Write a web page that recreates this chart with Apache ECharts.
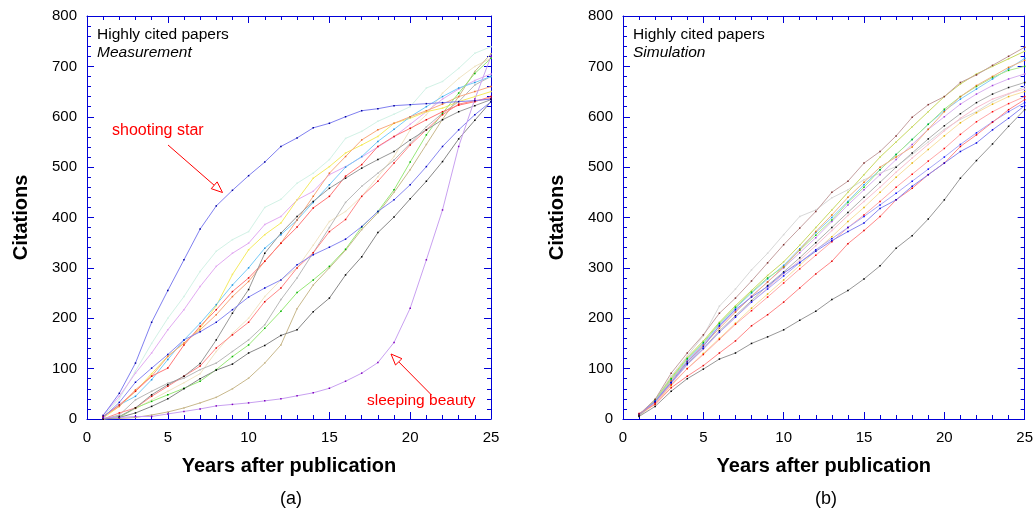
<!DOCTYPE html>
<html><head><meta charset="utf-8">
<script src="https://cdn.jsdelivr.net/npm/echarts@6/dist/echarts.min.js"></script>
<style>html,body{margin:0;padding:0;background:#fff}#c{width:1036px;height:509px}</style>
</head><body><div id="c"></div>
<script>
// ---------- data ----------
const years = [1,2,3,4,5,6,7,8,9,10,11,12,13,14,15,16,17,18,19,20,21,22,23,24,25];
const xTicks = [0,5,10,15,20,25];
const yTicks = [0,100,200,300,400,500,600,700,800];

// (a) Measurement
const measShootingStar   = [7,51,111,192,255,316,377,423,454,483,510,541,558,578,587,600,612,616,622,624,626,628,630,632,635];
const measSleepingBeauty = [2,3,5,5,10,15,20,26,29,32,36,40,46,52,61,75,91,112,152,220,316,415,541,635,720];
const measAqua   = [5,40,95,150,200,243,293,333,356,372,420,436,468,488,515,557,571,591,605,620,657,670,696,726,739];
const measPink   = [8,45,91,131,177,217,263,303,329,349,386,402,435,452,485,501,520,540,560,585,610,635,655,672,685];
const measYellow = [2,25,55,90,125,150,180,225,287,336,366,389,435,478,501,528,544,561,587,597,610,617,630,640,650];
const measCyan   = [5,28,45,78,118,157,190,227,266,300,339,366,395,430,465,500,521,551,575,600,620,640,657,668,680];
const measOrange = [5,25,58,85,124,151,177,207,243,273,313,349,395,442,488,521,554,574,587,600,612,625,640,650,660];
const measRed1   = [5,28,55,85,101,147,184,217,253,280,313,349,381,419,442,482,505,541,561,577,594,610,623,630,640];
const measRed2   = [0,12,22,45,65,85,105,141,167,192,233,260,300,330,372,396,442,472,508,544,574,604,625,632,636];
const measGrayDark = [0,5,22,48,68,85,110,157,210,257,329,369,402,432,458,478,498,515,531,554,574,594,610,622,634];
const measBlack  = [0,3,12,25,40,60,80,97,109,131,146,166,177,213,240,286,322,370,401,437,472,511,556,593,630];
const measBlue2  = [3,33,73,101,128,157,173,192,217,242,260,276,306,326,341,357,382,412,435,465,501,541,574,604,630];
const measGreen  = [0,3,22,35,48,61,75,98,124,147,180,214,251,276,303,337,381,412,455,510,564,607,647,686,716];
const measKhaki  = [0,1,3,8,14,22,32,43,60,81,111,147,219,266,300,335,376,409,450,495,545,595,640,690,725];
const measBeige  = [0,5,20,38,55,72,90,134,170,200,243,276,300,345,392,412,442,481,521,574,604,647,676,700,716];
const measGray   = [0,8,38,55,71,81,98,111,134,157,187,237,280,330,380,430,462,488,514,547,580,607,630,663,680];

// (b) Simulation
const simBrown     = [9,39,91,131,167,210,240,274,310,346,379,412,450,472,508,531,562,599,624,640,668,683,702,720,738];
const simLightGray = [8,38,85,125,165,224,258,296,329,366,402,415,439,455,475,488,501,525,550,575,595,610,630,645,660];
const simBlack     = [5,25,55,80,99,119,131,150,163,177,196,214,237,255,278,304,339,364,397,435,478,513,546,581,614];
const simBlue      = [9,35,73,113,144,185,217,242,263,290,311,333,354,372,389,418,435,462,485,508,531,548,574,597,622];
const simRed       = [11,29,62,85,106,131,155,185,207,232,260,288,313,348,374,402,435,458,485,508,541,564,589,614,634];
const simOlive     = [8,38,82,122,155,192,225,255,285,312,345,380,415,450,485,520,550,580,610,640,665,685,700,715,730];
const simLightBlue = [8,36,78,118,150,188,220,250,278,305,338,370,400,432,465,495,525,555,585,612,635,655,675,695,716];
const simGreen     = [8,38,80,120,152,190,222,252,280,302,335,365,395,430,460,495,525,555,585,615,640,660,678,692,700];
const simOrange    = [7,34,76,114,146,180,212,243,272,302,336,372,405,440,470,500,520,540,575,610,640,662,680,698,712];
const simViolet    = [8,36,78,115,148,184,214,244,272,300,330,360,392,425,455,485,515,545,575,600,625,645,662,675,685];
const simGrayDot   = [7,33,72,110,140,175,205,235,265,292,320,350,380,410,440,470,500,528,556,582,606,628,645,658,668];
const simPink      = [7,32,70,108,138,172,202,232,260,288,315,344,374,404,432,460,490,518,545,572,597,618,635,646,655];
const simYellow    = [6,30,66,100,130,160,190,220,248,276,305,334,362,392,420,450,480,508,535,562,588,608,625,640,650];
const simRed2      = [10,32,68,100,128,158,188,215,242,270,298,325,352,380,405,432,460,486,512,537,565,590,610,626,640];
const simBlue2     = [9,34,72,108,140,172,202,232,258,284,310,336,358,380,402,425,448,472,496,520,545,568,590,610,628];

// ---------- chart ----------
const FONT = 'Liberation Sans, Arial, sans-serif';
const AX = '#0000d8';
const chart = echarts.init(document.getElementById('c'), null, {renderer:'canvas'});

function xAx(g, pos, labels){
  const a = {type:'value', gridIndex:g, position:pos, min:xTicks[0], max:xTicks[xTicks.length-1], interval:xTicks[1]-xTicks[0],
    axisLine:{show:true,onZero:false,lineStyle:{color:AX,width:1}},
    axisTick:{show:true,inside:true,length:7,lineStyle:{color:AX}},
    minorTick:{show:true,splitNumber:5,length:4,lineStyle:{color:AX}},
    splitLine:{show:false}, minorSplitLine:{show:false},
    axisLabel:{show:labels,color:'#000',fontSize:15,fontFamily:FONT,margin:11}};
  if(labels){ Object.assign(a,{name:'Years after publication',nameLocation:'middle',nameGap:37,
    nameTextStyle:{fontSize:20,fontWeight:'bold',color:'#000',fontFamily:FONT}}); }
  return a;
}
function yAx(g, pos, labels){
  const a = {type:'value', gridIndex:g, position:pos, min:yTicks[0], max:yTicks[yTicks.length-1], interval:yTicks[1]-yTicks[0],
    axisLine:{show:true,onZero:false,lineStyle:{color:AX,width:1}},
    axisTick:{show:true,inside:true,length:7,lineStyle:{color:AX}},
    minorTick:{show:true,splitNumber:5,length:4,lineStyle:{color:AX}},
    splitLine:{show:false}, minorSplitLine:{show:false},
    axisLabel:{show:labels,color:'#000',fontSize:15,fontFamily:FONT,margin:10}};
  if(labels){ Object.assign(a,{name:'Citations',nameLocation:'middle',nameGap:56,nameRotate:90,
    nameTextStyle:{fontSize:20,fontWeight:'bold',color:'#000',fontFamily:FONT}}); }
  return a;
}
function ln(data, color, dot, g){
  return {type:'line', xAxisIndex:g*2, yAxisIndex:g*2, data:years.map((y,i)=>[y,data[i]]),
    lineStyle:{color:color,width:1}, itemStyle:{color:dot||color}, symbol:'rect', symbolSize:1.5,
    showSymbol:true, showAllSymbol:true, animation:false, silent:true, emphasis:{disabled:true}};
}
const series = [
  ln(measAqua,'#d2f2e6',null,0),
  ln(measBeige,'#f0e4c4',null,0),
  ln(measPink,'#e2aaf2',null,0),
  ln(measYellow,'#f4ea60',null,0),
  ln(measGray,'#b8b8b8',null,0),
  ln(measKhaki,'#c8b88c',null,0),
  ln(measCyan,'#78ccf8','#2090e0',0),
  ln(measOrange,'#f8aa80','#f07030',0),
  ln(measGreen,'#98e878','#00b000',0),
  ln(measRed2,'#ff8888','#e00000',0),
  ln(measRed1,'#ff7878','#e00000',0),
  ln(measGrayDark,'#989898','#000000',0),
  ln(measBlack,'#888888','#000000',0),
  ln(measBlue2,'#8888f0','#0000c0',0),
  ln(measSleepingBeauty,'#c8a0f0','#8000c0',0),
  ln(measShootingStar,'#8080f0','#0000a0',0),

  ln(simLightGray,'#d8d8d8',null,1),
  ln(simYellow,'#f8e0a0','#e0b000',1),
  ln(simPink,'#f8c0d0',null,1),
  ln(simViolet,'#d8b0f0','#a040e0',1),
  ln(simOlive,'#c8d860',null,1),
  ln(simLightBlue,'#88ccf8','#1090f0',1),
  ln(simGreen,'#a8e888','#00c000',1),
  ln(simOrange,'#f0b488','#e07000',1),
  ln(simGrayDot,'#b0b0b0','#000000',1),
  ln(simRed2,'#ffa8a8','#ff0000',1),
  ln(simBlue2,'#a8a8f8','#0000ff',1),
  ln(simRed,'#ff8888','#e00000',1),
  ln(simBlue,'#8888f0','#0000e0',1),
  ln(simBlack,'#989898','#000000',1),
  ln(simBrown,'#c4a0a0','#803030',1)
];

function arrow(id,x1,y1,x2,y2){
  const dx=x2-x1, dy=y2-y1, L=Math.hypot(dx,dy), ux=dx/L, uy=dy/L;
  const hl=11, hw=4.5;
  const bx=x2-ux*hl, by=y2-uy*hl;
  return [
    {id:id+'L',type:'line',z:100,shape:{x1:x1,y1:y1,x2:bx,y2:by},style:{stroke:'#ff0000',fill:null,lineWidth:1},silent:true},
    {id:id+'H',type:'polygon',z:100,shape:{points:[[x2,y2],[bx-uy*hw,by+ux*hw],[bx+uy*hw,by-ux*hw]]},style:{fill:'#ffffff',stroke:'#ff0000',lineWidth:1},silent:true}
  ];
}
function txt(id,x,y,s,size,extra){
  return {id:id,type:'text',x:x,y:y,z:100,silent:true,style:Object.assign({text:s,fontSize:size,fontFamily:FONT,fill:'#000',verticalAlign:'middle',align:'left'},extra||{})};
}

chart.setOption({
  animation:false,
  backgroundColor:'#fff',
  grid:[{left:87,top:16,width:404,height:403,containLabel:false},{left:623,top:16,width:404,height:403,containLabel:false}],
  xAxis:[xAx(0,'bottom',true),xAx(0,'top',false),xAx(1,'bottom',true),xAx(1,'top',false)],
  yAxis:[yAx(0,'left',true),yAx(0,'right',false),yAx(1,'left',true),yAx(1,'right',false)],
  series:series,
  graphic:[
    txt('t1',97,35,'Highly cited papers',15.5),
    txt('t2',97,52.5,'Measurement',15.5,{fontStyle:'italic'}),
    txt('t3',633,35,'Highly cited papers',15.5),
    txt('t4',633,52.5,'Simulation',15.5,{fontStyle:'italic'}),
    txt('t5',112,131,'shooting star',16,{fill:'#ff0000'}),
    txt('t6',367,401,'sleeping beauty',15.5,{fill:'#ff0000'}),
    ...arrow('a1',168,145,222.5,192.5),
    ...arrow('a2',431.5,395,391,354),
    txt('t7',291,499,'(a)',18,{align:'center'}),
    txt('t8',826,499,'(b)',18,{align:'center'})
  ]
});
</script></body></html>
